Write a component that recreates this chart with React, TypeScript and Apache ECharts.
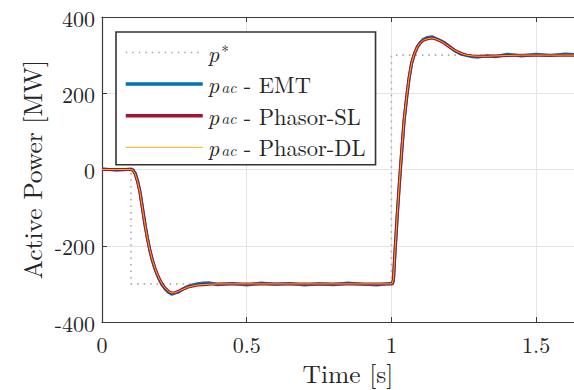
import React, { useEffect, useRef } from "react";
import * as echarts from "echarts";

// Reference power p*
const refTime = [0, 0.1, 0.1, 1.0, 1.0, 1.7];
const refPower = [0, 0, -300, -300, 300, 300];

// Simulation time samples [s]
const time = [
  0, 0.05, 0.1, 0.107, 0.115, 0.123, 0.131, 0.14, 0.149, 0.157, 0.165, 0.174, 0.183, 0.192, 0.2, 0.209,
  0.218, 0.23, 0.241, 0.252, 0.265, 0.28, 0.295, 0.31, 0.33, 0.35, 0.37, 0.4, 0.45, 0.5, 0.55, 0.6, 0.65,
  0.7, 0.75, 0.8, 0.85, 0.9, 0.95, 0.995, 1.003, 1.007, 1.013, 1.02, 1.028, 1.036, 1.044, 1.053, 1.061,
  1.07, 1.08, 1.09, 1.1, 1.11, 1.125, 1.14, 1.155, 1.17, 1.185, 1.2, 1.22, 1.24, 1.26, 1.28, 1.3, 1.33,
  1.36, 1.4, 1.45, 1.5, 1.55, 1.6, 1.65,
];

// Phasor single-loop model [MW]
const pacSL = [
  0, 0, 0, -2, -12, -32, -59, -103, -147, -181, -210, -237, -259, -277, -290, -302,
  -311, -320, -324, -323, -319, -314, -309, -306, -303, -302, -301, -300, -300, -300, -300, -300, -300,
  -300, -300, -300, -300, -300, -300, -300, -299, -288, -207, -120, -30, 53, 130, 192, 240,
  280, 305, 322, 332, 339, 343, 345, 342, 337, 330, 322, 312, 305, 300, 298, 297, 297,
  298, 299, 300, 300, 300, 300, 300,
];

// Phasor dynamic-loop model [MW]
const pacDL = [
  0, 0, 0, -2, -12, -32, -59, -103, -147, -181, -210, -237, -259, -277, -290, -302,
  -311, -320, -324, -323, -319, -314, -309, -306, -303, -302, -301, -300, -300, -300, -300, -300, -300,
  -300, -300, -300, -300, -300, -300, -300, -299, -288, -207, -120, -30, 53, 130, 192, 240,
  280, 305, 322, 332, 339, 343, 345, 342, 337, 330, 322, 312, 305, 300, 298, 297, 297,
  298, 299, 300, 300, 300, 300, 300,
];

// EMT model (with switching ripple) [MW]
const pacEMT = [
  2, -2, 1, -1, -10, -30, -57, -101, -146, -180, -211, -238, -261, -278, -292, -304,
  -313, -322, -327, -324, -321, -313, -307, -304, -300, -298, -297, -302, -299, -303, -298, -301, -299,
  -303, -300, -302, -298, -301, -303, -299, -301, -292, -212, -125, -35, 50, 128, 190, 238,
  279, 304, 322, 333, 341, 346, 348, 343, 338, 332, 323, 311, 303, 299, 296, 295, 298,
  296, 302, 298, 302, 299, 303, 300,
];

const xTicks = [0, 0.5, 1, 1.5];
const yTicks = [-400, -200, 0, 200, 400];

const SERIF = "'Latin Modern Roman', 'CMU Serif', 'Liberation Serif', serif";
const AX = "#3a3a3a";
const TXT = "#262626";

const legendText: Record<string, string> = {
  ref: "{i|p}{sup|*}",
  emt: "{i|p}{sub|ac}{t| - EMT}",
  sl: "{i|p}{sub|ac}{t| - Phasor-SL}",
  dl: "{i|p}{sub|ac}{t| - Phasor-DL}",
};

export default function App() {
  const ref = useRef<HTMLDivElement>(null);
  useEffect(() => {
    const chart = echarts.init(ref.current!, null, { renderer: "svg" });
    const zip = (xs: number[], ys: number[]) => xs.map((x, i) => [x, ys[i]]);
    chart.setOption({
      animation: false,
      backgroundColor: "#ffffff",
      grid: { left: 102, right: 0, top: 17, bottom: 66, containLabel: false },
      xAxis: [
        {
          type: "value",
          min: 0,
          max: 1.631,
          interval: 0.5,
          name: "Time [s]",
          nameLocation: "middle",
          nameGap: 37,
          nameTextStyle: { fontFamily: SERIF, fontSize: 25.5, color: TXT, padding: [0, 0, 0, 20] },
          axisLine: { show: true, onZero: false, lineStyle: { color: AX, width: 1.2 } },
          axisTick: { show: true, inside: true, length: 5, lineStyle: { color: AX } },
          axisLabel: {
            fontFamily: SERIF,
            fontSize: 22,
            color: TXT,
            margin: 10,
            showMaxLabel: false,
            formatter: (v: number) => (xTicks.includes(v) ? String(v) : ""),
          },
          splitLine: { show: true, lineStyle: { color: "#e4e4e4", width: 1 } },
        },
        {
          type: "value",
          position: "top",
          min: 0,
          max: 1.631,
          interval: 0.5,
          axisLine: { show: true, onZero: false, lineStyle: { color: AX, width: 1.2 } },
          axisTick: { show: true, inside: true, length: 5, lineStyle: { color: AX } },
          axisLabel: { show: false },
          splitLine: { show: false },
        },
      ],
      yAxis: {
        type: "value",
        min: -400,
        max: 400,
        interval: 200,
        name: "Active Power [MW]",
        nameLocation: "middle",
        nameGap: 56,
        nameTextStyle: { fontFamily: SERIF, fontSize: 25.5, color: TXT },
        axisLine: { show: true, lineStyle: { color: AX, width: 1.2 } },
        axisTick: { show: true, inside: true, length: 5, lineStyle: { color: AX } },
        axisLabel: {
          fontFamily: SERIF,
          fontSize: 22,
          color: TXT,
          margin: 7,
          formatter: (v: number) => (yTicks.includes(v) ? String(v) : ""),
        },
        splitLine: { show: true, lineStyle: { color: "#e4e4e4", width: 1 } },
      },
      legend: {
        orient: "vertical",
        left: 116,
        top: 32,
        padding: [9, 10, 6, 8],
        itemWidth: 77,
        itemHeight: 20,
        itemGap: 8.6,
        backgroundColor: "#ffffff",
        borderColor: "#333333",
        borderWidth: 1.6,
        borderRadius: 0,
        itemStyle: { opacity: 0, borderWidth: 0 },
        data: [
          { name: "ref", lineStyle: { width: 1.6 } },
          { name: "emt", lineStyle: { width: 3.5 } },
          { name: "sl", lineStyle: { width: 3.5 } },
          { name: "dl", lineStyle: { width: 1 } },
        ],
        formatter: (name: string) => legendText[name],
        textStyle: {
          fontFamily: SERIF,
          fontSize: 22.5,
          color: TXT,
          lineHeight: 20,
          rich: {
            i: { fontFamily: SERIF, fontStyle: "italic", fontSize: 22.5, color: TXT, lineHeight: 20 },
            sub: {
              fontFamily: SERIF,
              fontStyle: "italic",
              fontSize: 15.5,
              color: TXT,
              lineHeight: 10,
              verticalAlign: "bottom",
              padding: [0, 0, 0, 2],
            },
            sup: { fontFamily: SERIF, fontSize: 15.5, color: TXT, lineHeight: 10, verticalAlign: "top", padding: [0, 0, 0, 2] },
            t: { fontFamily: SERIF, fontSize: 22.5, color: TXT, lineHeight: 20 },
          },
        },
      },
      series: [
        {
          name: "ref",
          type: "line",
          data: zip(refTime, refPower),
          symbol: "none",
          color: "#a8a8a8",
          lineStyle: { color: "#a8a8a8", width: 1.6, type: [1.5, 5] },
        },
        {
          name: "emt",
          type: "line",
          data: zip(time, pacEMT),
          symbol: "none",
          color: "#0072BD",
          lineStyle: { color: "#0072BD", width: 3.2 },
        },
        {
          name: "sl",
          type: "line",
          data: zip(time, pacSL),
          symbol: "none",
          color: "#A2142F",
          lineStyle: { color: "#A2142F", width: 3 },
        },
        {
          name: "dl",
          type: "line",
          data: zip(time, pacDL),
          symbol: "none",
          color: "#EDB120",
          lineStyle: { color: "#EDB120", width: 1 },
        },
      ],
    });
    return () => chart.dispose();
  }, []);
  return <div ref={ref} style={{ width: 574, height: 390, position: "absolute", left: 0, top: 0 }} />;
}
